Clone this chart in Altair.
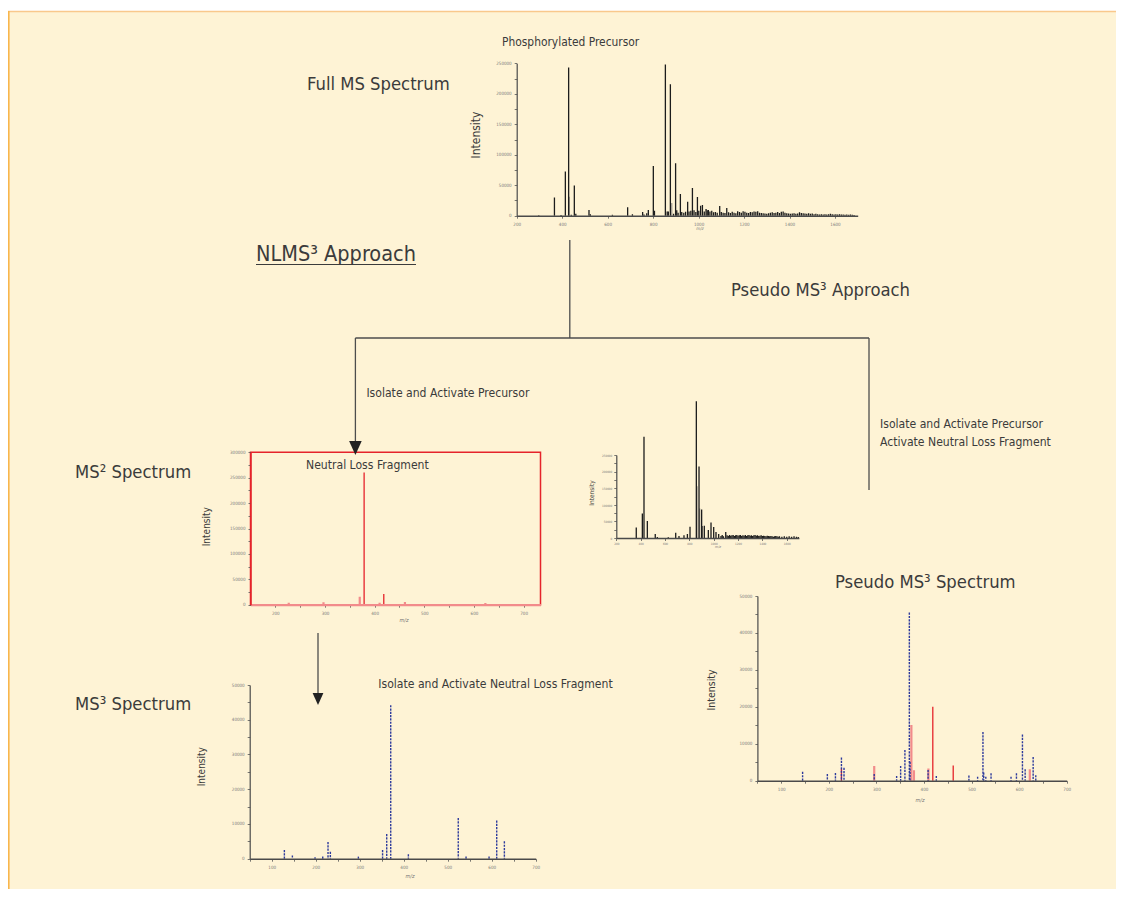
import altair as alt
import pandas as pd

W, H = 1108, 881

# ------------------------------------------------------------------ data
# Full MS spectrum (phosphorylated precursor)
full_mz = [297, 366, 395, 414, 428.5, 440, 453.5, 460, 518, 524, 621, 688, 709, 754, 760, 772, 779,
           801, 806, 854, 862, 867, 876, 890, 899, 904, 910, 920, 926, 935, 943, 952, 958, 966,
           973, 980, 988, 995, 1001, 1009, 1017, 1025, 1033, 1038, 1043, 1050, 1058, 1066, 1074,
           1082, 1093, 1100, 1108, 1116, 1124, 1132, 1140, 1148, 1156, 1164, 1172, 1180, 1188,
           1196, 1204, 1212, 1220, 1228, 1236, 1244, 1252, 1260, 1268, 1276, 1284, 1292, 1300,
           1308, 1316, 1324, 1332, 1340, 1348, 1356, 1364, 1372, 1380, 1388, 1396, 1404, 1412,
           1420, 1428, 1436, 1444, 1452, 1460, 1468, 1476, 1484, 1492, 1500, 1508, 1516, 1524,
           1532, 1540, 1548, 1556, 1564, 1572, 1580, 1588, 1596, 1604, 1612, 1620, 1628, 1636,
           1644, 1652, 1660, 1668, 1676, 1684]
full_int = [800, 30000, 1000, 72500, 243000, 1500, 49500, 3000, 9500, 2500, 1500, 14000, 2500, 6000,
            2000, 4000, 9500, 81500, 8000, 248000, 7000, 7000, 215500, 3000, 86000, 9000, 5000,
            35500, 6000, 5000, 6500, 23000, 7000, 8000, 45500, 9000, 6000, 30500, 8000, 16500,
            17500, 7000, 11000, 9000, 9500, 7000, 8000, 5500, 6000, 5000, 16000, 6000, 5000, 4500,
            12500, 5500, 4500, 6500, 5000, 4000, 7500, 6000, 5000, 7500, 6500, 5000, 4500, 6000,
            5500, 7000, 6500, 7500, 5000, 4500, 4000, 3500, 3000, 4000, 5000, 5500, 4500, 5000,
            6000, 4500, 6500, 7000, 5000, 4000, 3500, 3000, 3500, 4000, 3000, 3500, 5500, 4500,
            4000, 3500, 3000, 4000, 3000, 3500, 2500, 3000, 2500, 2000, 2500, 2000, 2500, 1800,
            2200, 3000, 2500, 2000, 2500, 2000, 2500, 1800, 2000, 1500, 2000, 1500, 2000, 1500, 1200]
full_light_mz = [431, 882]
full_light_int = [31000, 21000]

# MS2 spectrum (neutral loss fragment)
nl_mz = [378.8, 418.4]
nl_int = [260000, 21000]
nl_minor_mz = [227, 297, 370, 410, 461, 623]
nl_minor_int = [3900, 4600, 15700, 3900, 5200, 3300]

# MS3 spectrum
ms3_mz = [128.8, 147, 198.5, 216, 228, 233.3, 297, 352, 361.4, 370.5, 410.6, 524, 541.7, 594, 611.4, 628.8]
ms3_int = [2500, 950, 400, 600, 4800, 2000, 600, 2500, 7100, 44200, 1300, 11700, 600, 600, 11000, 5000]

# Pseudo MS3 spectrum
ps_blue_mz = [145, 197, 214, 226.6, 232, 295.5, 342.6, 351, 360, 369.3, 370.8, 408.7, 426, 494.5,
              512.8, 524, 525.6, 530, 541, 583, 594.4, 607, 612.7, 629.5, 635]
ps_blue_int = [2400, 1800, 2100, 6300, 3500, 1800, 1300, 4000, 8300, 45500, 5100, 2900, 1300, 1400,
               1100, 13200, 2200, 1100, 2000, 1100, 2000, 12500, 3100, 6400, 1500]
ps_red_mz = [226.6, 418.6, 461.5]
ps_red_int = [3300, 20000, 4100]
ps_pink_mz = [295.5, 373.6, 379, 409.4, 622.5]
ps_pink_int = [4000, 15100, 2800, 3300, 3100]

# small intermediate spectrum
mid_mz = [364, 414, 427.5, 455, 520, 537, 627, 688, 715, 756, 784, 805.5, 857.5, 879.5, 901, 904,
          923, 956, 978, 1000, 1019, 1041, 1060, 1070, 1080, 1099, 1110, 1120, 1130, 1140, 1150,
          1160, 1170, 1180, 1190, 1200, 1210, 1220, 1230, 1240, 1250, 1260, 1270, 1280, 1290, 1300,
          1310, 1320, 1330, 1340, 1350, 1360, 1370, 1380, 1390, 1400, 1410, 1420, 1430, 1440, 1450,
          1460, 1470, 1480, 1490, 1500, 1510, 1520, 1530, 1540, 1560, 1580, 1600, 1620, 1640, 1660,
          1680, 1695]
mid_int = [32000, 74000, 305000, 51000, 12000, 3000, 2000, 16000, 6000, 8000, 12000, 34000, 412000,
           215000, 86000, 36000, 37000, 24000, 47000, 33000, 18000, 12000, 6000, 9000, 5000, 18000,
           8000, 6000, 9000, 7000, 8000, 9000, 6000, 8000, 9000, 7000, 8000, 9000, 6000, 8000, 7000,
           9000, 6000, 8000, 9000, 7000, 8000, 6000, 8000, 9000, 7000, 8000, 6000, 7000, 8000, 6000,
           7000, 6000, 5000, 7000, 6000, 5000, 6000, 5000, 4000, 5000, 6000, 5000, 4000, 5000, 4000,
           5000, 4000, 5000, 4000, 5000, 4000, 3000]
mid_light_mz = [863, 885]
mid_light_int = [156000, 89000]

# ------------------------------------------------------------------ styles
FONT = "DejaVu Sans Condensed, DejaVu Sans, sans-serif"
TXT = "#3b3b3b"
CREAM = "#FEF3D5"

SERIES = ["light", "black", "pink", "red", "blue"]
COLOR = alt.Scale(domain=SERIES, range=["#a39d92", "#1c1c1c", "#F28B8B", "#E5232B", "#2D3A9C"])
DASH = alt.Scale(domain=SERIES, range=[[1, 0], [1, 0], [1, 0], [1, 0], [2.2, 1.1]])
WIDTH = alt.Scale(type="ordinal", domain=SERIES, range=[1.3, 1.3, 2.2, 1.3, 1.4])


def table(*parts):
    rows = []
    for mz, inten, s in parts:
        rows += [{"mz": m, "inten": v, "series": s} for m, v in zip(mz, inten)]
    return pd.DataFrame(rows)


def spectrum(df, xdom, xr, ydom, yr, xticks, xstep, yticks, ystep,
             lab=4.5, xdomc="#4a4a4a", ydomc="#4a4a4a", xdw=1.4, ydw=1.2, pad=3):
    common = dict(title=None, grid=False, labelFontSize=lab, labelColor="#7a7a7a", labelFont=FONT,
                  tickSize=2.5, tickColor="#555555", tickWidth=0.8, labelOverlap=False,
                  labelFlush=False, format="d", labelPadding=pad, zindex=1)
    xa = alt.Axis(orient="bottom", offset=-(H - yr[0]), values=xticks,
                  labelExpr=f"datum.value % {xstep} == 0 ? datum.label : ''",
                  domainColor=xdomc, domainWidth=xdw, **common)
    ya = alt.Axis(orient="left", offset=-xr[0], values=yticks,
                  labelExpr=f"datum.value % {ystep} == 0 ? datum.label : ''",
                  domainColor=ydomc, domainWidth=ydw, **common)
    return alt.Chart(df).mark_rule().encode(
        x=alt.X("mz:Q", scale=alt.Scale(domain=xdom, range=xr, nice=False, zero=False), axis=xa),
        y=alt.Y("inten:Q", scale=alt.Scale(domain=ydom, range=yr, nice=False, zero=False), axis=ya),
        y2=alt.datum(0),
        color=alt.Color("series:N", scale=COLOR, legend=None),
        strokeDash=alt.StrokeDash("series:N", scale=DASH, legend=None),
        strokeWidth=alt.StrokeWidth("series:N", scale=WIDTH, legend=None),
    )


ONE = pd.DataFrame({"k": [0]})


def text(t, x, y, size, angle=0, align="left", baseline="alphabetic", italic=False, color=TXT):
    kw = dict(text=t, align=align, baseline=baseline, fontSize=size, font=FONT, color=color, angle=angle)
    if italic:
        kw["fontStyle"] = "italic"
    return alt.Chart(ONE).mark_text(**kw).encode(x=alt.value(x), y=alt.value(y))


def vline(x, y1, y2, color="#4d4d4d", w=1.3):
    return alt.Chart(ONE).mark_rule(color=color, strokeWidth=w).encode(
        x=alt.value(x), y=alt.value(y1), y2=alt.value(y2))


def hline(x1, x2, y, color="#4d4d4d", w=1.3):
    return alt.Chart(ONE).mark_rule(color=color, strokeWidth=w).encode(
        x=alt.value(x1), x2=alt.value(x2), y=alt.value(y))


TRI = "M-0.9,-1L0.9,-1L0,1Z"


def arrowhead(x, y, size):
    return alt.Chart(ONE).mark_point(shape=TRI, filled=True, size=size, color="#222222",
                                     opacity=1, strokeWidth=0).encode(x=alt.value(x), y=alt.value(y))


# ------------------------------------------------------------------ layers
bg = alt.Chart(ONE).mark_rect(color=CREAM).encode(
    x=alt.value(0), x2=alt.value(W), y=alt.value(3), y2=alt.value(H))
border = [hline(0, W, 3.5, color="#F9C88C", w=1.5), vline(0.8, 3, H, color="#F8B64C", w=1.6)]

tick200 = list(range(200, 1601, 200))
top = spectrum(table((full_light_mz, full_light_int, "light"), (full_mz, full_int, "black")),
               [200, 1700], [508.7, 849.7], [0, 250000], [207.7, 55.3],
               tick200, 200, list(range(0, 250001, 25000)), 50000)

mid = spectrum(table((mid_light_mz, mid_light_int, "light"), (mid_mz, mid_int, "black")),
               [200, 1700], [608.3, 790.9], [0, 250000], [530, 447],
               tick200, 200, list(range(0, 250001, 25000)), 50000, lab=3, pad=2)

ms2 = spectrum(table((nl_minor_mz, nl_minor_int, "pink"), (nl_mz, nl_int, "red")),
               [150, 734], [242.5, 532.5], [0, 300000], [596.7, 444.3],
               list(range(200, 701, 50)), 100, list(range(0, 300001, 25000)), 50000,
               xdomc="#F28B8B", ydomc="#E5232B", xdw=2.2, ydw=1.5)

ms3 = spectrum(table((ms3_mz, ms3_int, "blue")),
               [50, 700], [241.7, 527.7], [0, 50000], [850.7, 677],
               list(range(50, 701, 50)), 100, list(range(0, 50001, 5000)), 10000)

pseudo = spectrum(table((ps_pink_mz, ps_pink_int, "pink"), (ps_red_mz, ps_red_int, "red"),
                        (ps_blue_mz, ps_blue_int, "blue")),
                  [50, 700], [749.4, 1058.7], [0, 50000], [772.7, 588],
                  list(range(50, 701, 50)), 100, list(range(0, 50001, 5000)), 10000)

red_box = alt.Chart(ONE).mark_rect(fillOpacity=0, stroke="#E5232B", strokeWidth=1.5).encode(
    x=alt.value(242.5), x2=alt.value(532.5), y=alt.value(444.3), y2=alt.value(596.7))

BIG = 18.3
SMALL = 12.1
labels = [
    text("Phosphorylated Precursor", 494, 37.7, 11.9),
    text("Full MS Spectrum", 299, 81.5, BIG),
    text("NLMS³ Approach", 248, 252.7, 21.5),
    hline(248, 408, 256.5, color="#3b3b3b", w=1),
    text("Pseudo MS³ Approach", 723, 287.5, BIG),
    text("Isolate and Activate Precursor", 358.4, 388.5, SMALL),
    text("Isolate and Activate Precursor", 872, 420, SMALL),
    text("Activate Neutral Loss Fragment", 872, 438, SMALL),
    text("MS² Spectrum", 67, 469.5, BIG),
    text("Neutral Loss Fragment", 298, 461.3, SMALL),
    text("MS³ Spectrum", 67, 702, BIG),
    text("Isolate and Activate Neutral Loss Fragment", 370.3, 680.3, SMALL),
    text("Pseudo MS³ Spectrum", 827, 579.5, BIG),
    # axis titles
    text("Intensity", 468, 127, 12, angle=270, align="center", baseline="middle"),
    text("Intensity", 198.7, 518.7, 10, angle=270, align="center", baseline="middle"),
    text("Intensity", 193.7, 758.7, 10, angle=270, align="center", baseline="middle"),
    text("Intensity", 703.7, 682, 10.5, angle=270, align="center", baseline="middle"),
    text("Intensity", 583.7, 485, 6.5, angle=270, align="center", baseline="middle"),
    text("m/z", 692, 221, 4.5, align="center", baseline="middle", italic=True, color="#777777"),
    text("m/z", 396, 612, 5.5, align="center", baseline="middle", italic=True, color="#777777"),
    text("m/z", 402, 868, 5.5, align="center", baseline="middle", italic=True, color="#777777"),
    text("m/z", 912, 792, 5.5, align="center", baseline="middle", italic=True, color="#777777"),
    text("m/z", 710, 539, 3.5, align="center", baseline="middle", italic=True, color="#777777"),
]

connectors = [
    vline(561.8, 232, 330),
    hline(347.4, 861, 330),
    vline(347.4, 330, 436),
    arrowhead(347.4, 440, 196),
    vline(861, 330, 482),
    vline(310, 625, 687),
    arrowhead(310, 691, 144),
]

chart = alt.layer(
    bg, *border, red_box, top, mid, ms2, ms3, pseudo, *connectors, *labels
).resolve_scale(
    x="independent", y="independent"
).resolve_axis(
    x="independent", y="independent"
).properties(
    width=W, height=H, autosize=alt.AutoSizeParams(type="none"), padding=0, background="white"
).configure_view(stroke=None)

chart.save("out.html", embed_options={"renderer": "svg", "actions": False})
